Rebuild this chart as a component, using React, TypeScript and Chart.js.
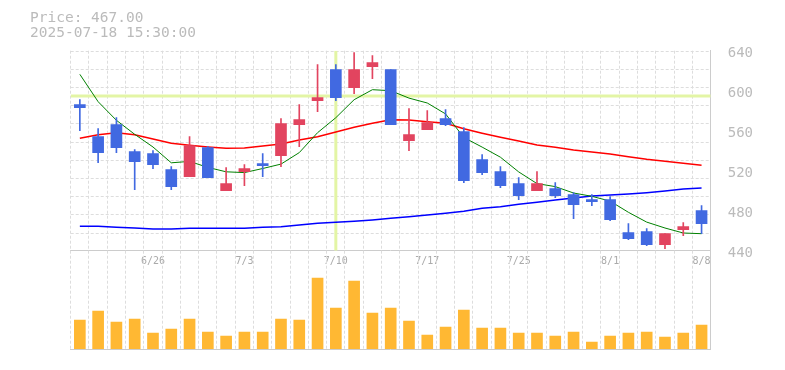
import React, { useEffect, useRef } from 'react';
import { Chart, registerables } from 'chart.js';

Chart.register(...registerables);

// ---- data ----
const dates = ['6/20','6/23','6/24','6/25','6/26','6/27','6/30','7/1','7/2','7/3','7/4','7/7','7/8','7/9','7/10','7/11','7/14','7/15','7/16','7/17','7/18','7/22','7/23','7/24','7/25','7/28','7/29','7/30','7/31','8/1','8/4','8/5','8/6','8/7','8/8'];
const tickLabels = ['6/26','7/3','7/10','7/17','7/25','8/1','8/8'];
const priceTicks = [440, 480, 520, 560, 600, 640];

const opens  = [586,554,566,539,537,521,514,543,500,519,527,535,566,590,621,603,624,621,550,561,572,559,531,519,507,500,502,496,491,491,458,459,446,461,480];
const highs  = [591,562,573,541,540,524,554,544,523,526,537,572,586,626,626,638,635,621,582,580,581,563,536,524,513,519,508,498,496,494,467,462,457,468,485];
const lows   = [560,528,538,501,522,501,514,513,500,505,514,524,544,579,590,597,612,566,540,561,565,508,516,503,491,500,493,472,485,470,451,445,442,455,457];
const closes = [583,538,543,529,526,504,545,513,507,522,525,567,571,593,593,621,628,566,556,568,566,510,518,505,495,507,495,486,489,471,452,446,457,464,467];

const ma5  = [616.4,589,570.4,556.4,543.7,527.9,529.3,523.3,518.9,518.1,522.2,526.6,538.1,558,573,591,601,600,592.6,587.7,576.8,553.2,543.6,533.5,518.8,507.1,504.1,497.7,494.4,489.6,478.4,468.6,462.7,457.7,457.0];
const ma25 = [552.4,556,558,556,551.7,547.4,545.4,543.7,542.4,542.7,544.7,546.6,550.7,554,558.7,563.4,567.4,571,570.7,569,567.4,562,557.5,553.4,549.7,545.7,543.4,540.7,538.7,536.7,534,531.4,529.4,527.4,525.4];
const ma75 = [464.4,464.4,463.4,462.7,461.7,461.7,462.4,462.4,462.4,462.4,463.4,464,465.7,467.4,468.4,469.4,470.7,472.4,474,475.7,477.4,479.4,482.4,484,486.4,488.4,490.7,492.7,494.7,495.7,496.7,498,499.7,501.7,502.7];

const volumes = [29,38,27,30,16,20,30,17,13,17,17,30,29,71,41,68,36,41,28,14,22,39,21,21,16,16,13,17,7,13,16,17,12,16,24];

const crosshairDate = '7/10';
const crosshairPrice = 594.7;
const headerPrice = 'Price: 467.00';
const headerTime = '2025-07-18 15:30:00';

// ---- styles ----
const UP = '#e2445f';
const DOWN = '#4169e1';
const GRID = '#dddddd';
const AXIS = '#cccccc';
const MONO = '"DejaVu Sans Mono", monospace';

const candleColors = opens.map((o, i) => (closes[i] >= o ? UP : DOWN));

const priceGridPlugin = {
  id: 'priceGrid',
  beforeDraw(chart: any) {
    const { ctx, chartArea } = chart;
    const { left, right, top, bottom } = chartArea;
    const step = (bottom - top) / 11;
    ctx.save();
    ctx.strokeStyle = GRID;
    ctx.lineWidth = 1;
    ctx.setLineDash([3, 2]);
    for (let k = 0; k < 11; k++) {
      const y = Math.round(top + k * step) + 0.5;
      ctx.beginPath();
      ctx.moveTo(left, y);
      ctx.lineTo(right, y);
      ctx.stroke();
    }
    ctx.restore();
  },
  beforeDatasetsDraw(chart: any) {
    const { ctx, chartArea, scales } = chart;
    const { left, right, top, bottom } = chartArea;
    const x = scales.x.getPixelForValue(dates.indexOf(crosshairDate));
    const y = scales.y.getPixelForValue(crosshairPrice);
    ctx.save();
    ctx.beginPath();
    ctx.rect(left, top, right - left, bottom - top);
    ctx.clip();
    ctx.strokeStyle = '#e3f5a5';
    ctx.lineWidth = 3;
    ctx.beginPath();
    ctx.moveTo(x, top);
    ctx.lineTo(x, bottom);
    ctx.moveTo(left, y);
    ctx.lineTo(right, y);
    ctx.stroke();
    ctx.restore();
  },
};

export default function App() {
  const priceRef = useRef<HTMLCanvasElement | null>(null);
  const volRef = useRef<HTMLCanvasElement | null>(null);

  useEffect(() => {
    if (!priceRef.current || !volRef.current) return;

    const priceChart = new Chart(priceRef.current, {
      type: 'bar',
      data: {
        labels: dates,
        datasets: [
          {
            type: 'bar',
            data: opens.map((o, i) => [o, closes[i]]) as any,
            backgroundColor: candleColors,
            barThickness: 11,
            grouped: false,
            order: 0,
          } as any,
          {
            type: 'bar',
            data: lows.map((l, i) => [l, highs[i]]) as any,
            backgroundColor: candleColors,
            barThickness: 1,
            grouped: false,
            order: 1,
          } as any,
          {
            type: 'line',
            data: ma5,
            borderColor: '#008000',
            borderWidth: 1,
            pointRadius: 0,
            tension: 0,
            order: 2,
          } as any,
          {
            type: 'line',
            data: ma25,
            borderColor: '#ff0000',
            borderWidth: 1.5,
            pointRadius: 0,
            tension: 0,
            order: 3,
          } as any,
          {
            type: 'line',
            data: ma75,
            borderColor: '#0000ff',
            borderWidth: 1.5,
            pointRadius: 0,
            tension: 0,
            order: 4,
          } as any,
        ],
      },
      options: {
        responsive: false,
        animation: false,
        events: [],
        layout: { padding: { left: 70.7, top: 50.7, right: 14.3, bottom: 99.3 } },
        plugins: { legend: { display: false }, tooltip: { enabled: false }, title: { display: false } },
        scales: {
          x: {
            offset: true,
            grid: { offset: true, color: GRID, drawTicks: false, lineWidth: 1 },
            border: { display: true, color: AXIS, dash: [3, 2] },
            ticks: {
              autoSkip: false,
              maxRotation: 0,
              minRotation: 0,
              padding: 5,
              color: '#aaaaaa',
              font: { family: MONO, size: 10 },
              callback: (_v: any, i: number) => (tickLabels.includes(dates[i]) ? dates[i] : ''),
            },
            afterFit: (s: any) => { s.height = 20; },
          },
          y: {
            position: 'right',
            min: 440,
            max: 640,
            grid: { display: false },
            border: { display: true, color: AXIS },
            ticks: {
              stepSize: 40,
              padding: 9,
              labelOffset: 2.5,
              color: '#bbbbbb',
              font: { family: MONO, size: 14 },
            },
            afterBuildTicks: (s: any) => { s.ticks = priceTicks.map((v) => ({ value: v })); },
            afterFit: (s: any) => { s.width = 60; },
          },
        },
      } as any,
      plugins: [priceGridPlugin],
    });

    const volChart = new Chart(volRef.current, {
      type: 'bar',
      data: {
        labels: dates,
        datasets: [
          {
            data: volumes,
            backgroundColor: '#ffb833',
            barThickness: 11,
          },
        ],
      },
      options: {
        responsive: false,
        animation: false,
        events: [],
        layout: { padding: { left: 70.7, top: 250.7, right: 14.3, bottom: 0 } },
        plugins: { legend: { display: false }, tooltip: { enabled: false } },
        scales: {
          x: {
            offset: true,
            grid: { offset: true, color: GRID, drawTicks: false },
            border: { display: true, color: AXIS, dash: [3, 2] },
            ticks: { display: false },
            afterFit: (s: any) => { s.height = 21; },
          },
          y: {
            position: 'right',
            min: 0,
            max: 98.3,
            grid: { display: false },
            border: { display: true, color: AXIS },
            ticks: { display: false },
            afterFit: (s: any) => { s.width = 60; },
          },
        },
      } as any,
    });

    return () => {
      priceChart.destroy();
      volChart.destroy();
    };
  }, []);

  const canvasStyle: React.CSSProperties = { position: 'absolute', left: 0, top: 0, width: 785, height: 370 };
  const headerStyle: React.CSSProperties = {
    position: 'absolute',
    left: 30,
    top: 10,
    fontFamily: MONO,
    fontSize: 14.5,
    lineHeight: '15px',
    color: '#bbbbbb',
    whiteSpace: 'pre',
  };

  return (
    <div style={{ position: 'absolute', left: 0, top: 0, width: 785, height: 370, background: '#ffffff', overflow: 'hidden' }}>
      <canvas ref={priceRef} width={785} height={370} style={canvasStyle} />
      <canvas ref={volRef} width={785} height={370} style={canvasStyle} />
      <div style={headerStyle}>
        <div>{headerPrice}</div>
        <div>{headerTime}</div>
      </div>
    </div>
  );
}
